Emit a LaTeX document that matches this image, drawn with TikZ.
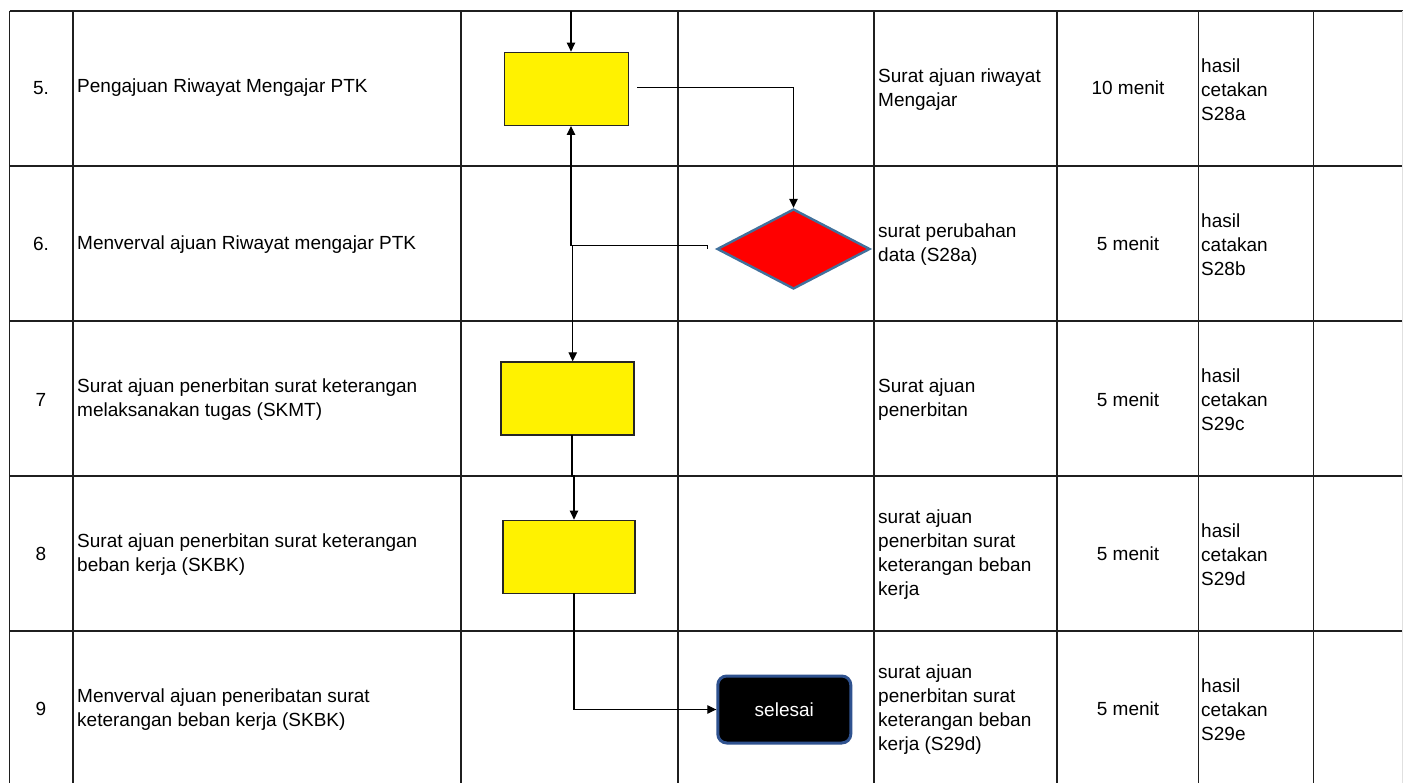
\documentclass[tikz,border=0pt]{standalone}
\usepackage{fontspec}
\setmainfont{Liberation Sans}
\usetikzlibrary{arrows.meta,shapes.geometric}
\definecolor{dborder}{RGB}{65,113,156}
\definecolor{eborder}{RGB}{47,82,143}
\begin{document}
\begin{tikzpicture}[x=1pt,y=-1pt,
  grid/.style={draw=black!88,line width=1.7pt},
  conn/.style={draw=black,line width=1.1pt},
  arr/.style={conn,-{Triangle[length=9pt,width=8.5pt]}},
  procbox/.style={draw=black!85,line width=1.4pt,fill=yellow,minimum width=#1,minimum height=73pt,inner sep=0pt},
  decis/.style={diamond,draw=dborder,line width=2.4pt,fill=red,minimum width=153pt,minimum height=80pt,inner sep=0pt,aspect=1.9},
  endbox/.style={draw=eborder,line width=3pt,fill=black,rounded corners=9pt,minimum width=133pt,minimum height=67pt,text=white},
  txt/.style={font=\fontsize{19}{24}\selectfont,inner sep=0pt,align=left,anchor=west},
  ctxt/.style={font=\fontsize{19}{24}\selectfont,inner sep=0pt,align=center}
]
\useasboundingbox[fill=white] (0,0) rectangle (1403,783);
% table grid
\foreach \y in {11,165.7,321,476,630.7}
  \draw[grid] (9.5,\y) -- (1403,\y);
\foreach \x in {9.5,72.7,461,677.7,874,1057,1198.6,1313.5}
  \draw[grid] (\x,11) -- (\x,783);
\draw[draw=black!12,line width=1pt] (1402,11) -- (1402,783);

% column 1
\node[ctxt] (n5) at (41,88) {5.};
\node[ctxt] (n6) at (41,244) {6.};
\node[ctxt] (n7) at (41,400) {7};
\node[ctxt] (n8) at (41,554) {8};
\node[ctxt] (n9) at (41,709) {9};
% column 2
\node[txt] (a5) at (77,88) {Pengajuan Riwayat Mengajar PTK};
\node[txt] (a6) at (77,245) {Menverval ajuan Riwayat mengajar PTK};
\node[txt] (a7) at (77,400) {Surat ajuan penerbitan surat keterangan\\melaksanakan tugas (SKMT)};
\node[txt] (a8) at (77,555) {Surat ajuan penerbitan surat keterangan\\beban kerja (SKBK)};
\node[txt] (a9) at (77,710) {Menverval ajuan peneribatan surat\\keterangan beban kerja (SKBK)};
% column 5
\node[txt] (o5) at (878,90) {Surat ajuan riwayat\\Mengajar};
\node[txt] (o6) at (878,245) {surat perubahan\\data (S28a)};
\node[txt] (o7) at (878,400) {Surat ajuan\\penerbitan};
\node[txt] (o8) at (878,555) {surat ajuan\\penerbitan surat\\keterangan beban\\kerja};
\node[txt] (o9) at (878,709.5) {surat ajuan\\penerbitan surat\\keterangan beban\\kerja (S29d)};
% column 6
\node[ctxt] (t5) at (1128,88) {10 menit};
\node[ctxt] (t6) at (1128,244) {5 menit};
\node[ctxt] (t7) at (1128,400) {5 menit};
\node[ctxt] (t8) at (1128,554) {5 menit};
\node[ctxt] (t9) at (1128,709) {5 menit};
% column 7
\node[txt] (h5) at (1201,90) {hasil\\cetakan\\S28a};
\node[txt] (h6) at (1201,245) {hasil\\catakan\\S28b};
\node[txt] (h7) at (1201,400) {hasil\\cetakan\\S29c};
\node[txt] (h8) at (1201,554.5) {hasil\\cetakan\\S29d};
\node[txt] (h9) at (1201,709.5) {hasil\\cetakan\\S29e};

% flow shapes
\node[procbox=124pt] (b1) at (566.4,88.8) {};
\node[procbox=133pt] (b2) at (567.3,398.5) {};
\node[procbox=132pt] (b3) at (568.8,556.8) {};
\node[decis] (d) at (793.5,249) {};
\node[endbox] (e) at (784.3,709.5) {\fontsize{19}{24}\selectfont selesai};

% connectors
\coordinate (top) at (571,11);
\coordinate (c1) at (637,87.3);
\coordinate (tk) at (707.7,249);
\coordinate (j1) at (571,245.3);
\coordinate (j2) at (572.7,245.3);
\coordinate (s2) at (572,435);
\coordinate (m2) at (574,476);
\coordinate (s3) at (574,593);

\draw[arr] (top) -- (top |- b1.north);
\draw[arr] (c1) -| (d.north);
\draw[arr] (tk) -- (tk |- j1) -- (j1) -- (j1 |- b1.south);
\draw[arr] (j2) -- (j2 |- b2.north);
\draw[arr] (s2) -- (s2 |- m2) -- (m2) -- (m2 |- b3.north);
\draw[arr] (s3) |- (e.west);
\end{tikzpicture}
\end{document}
